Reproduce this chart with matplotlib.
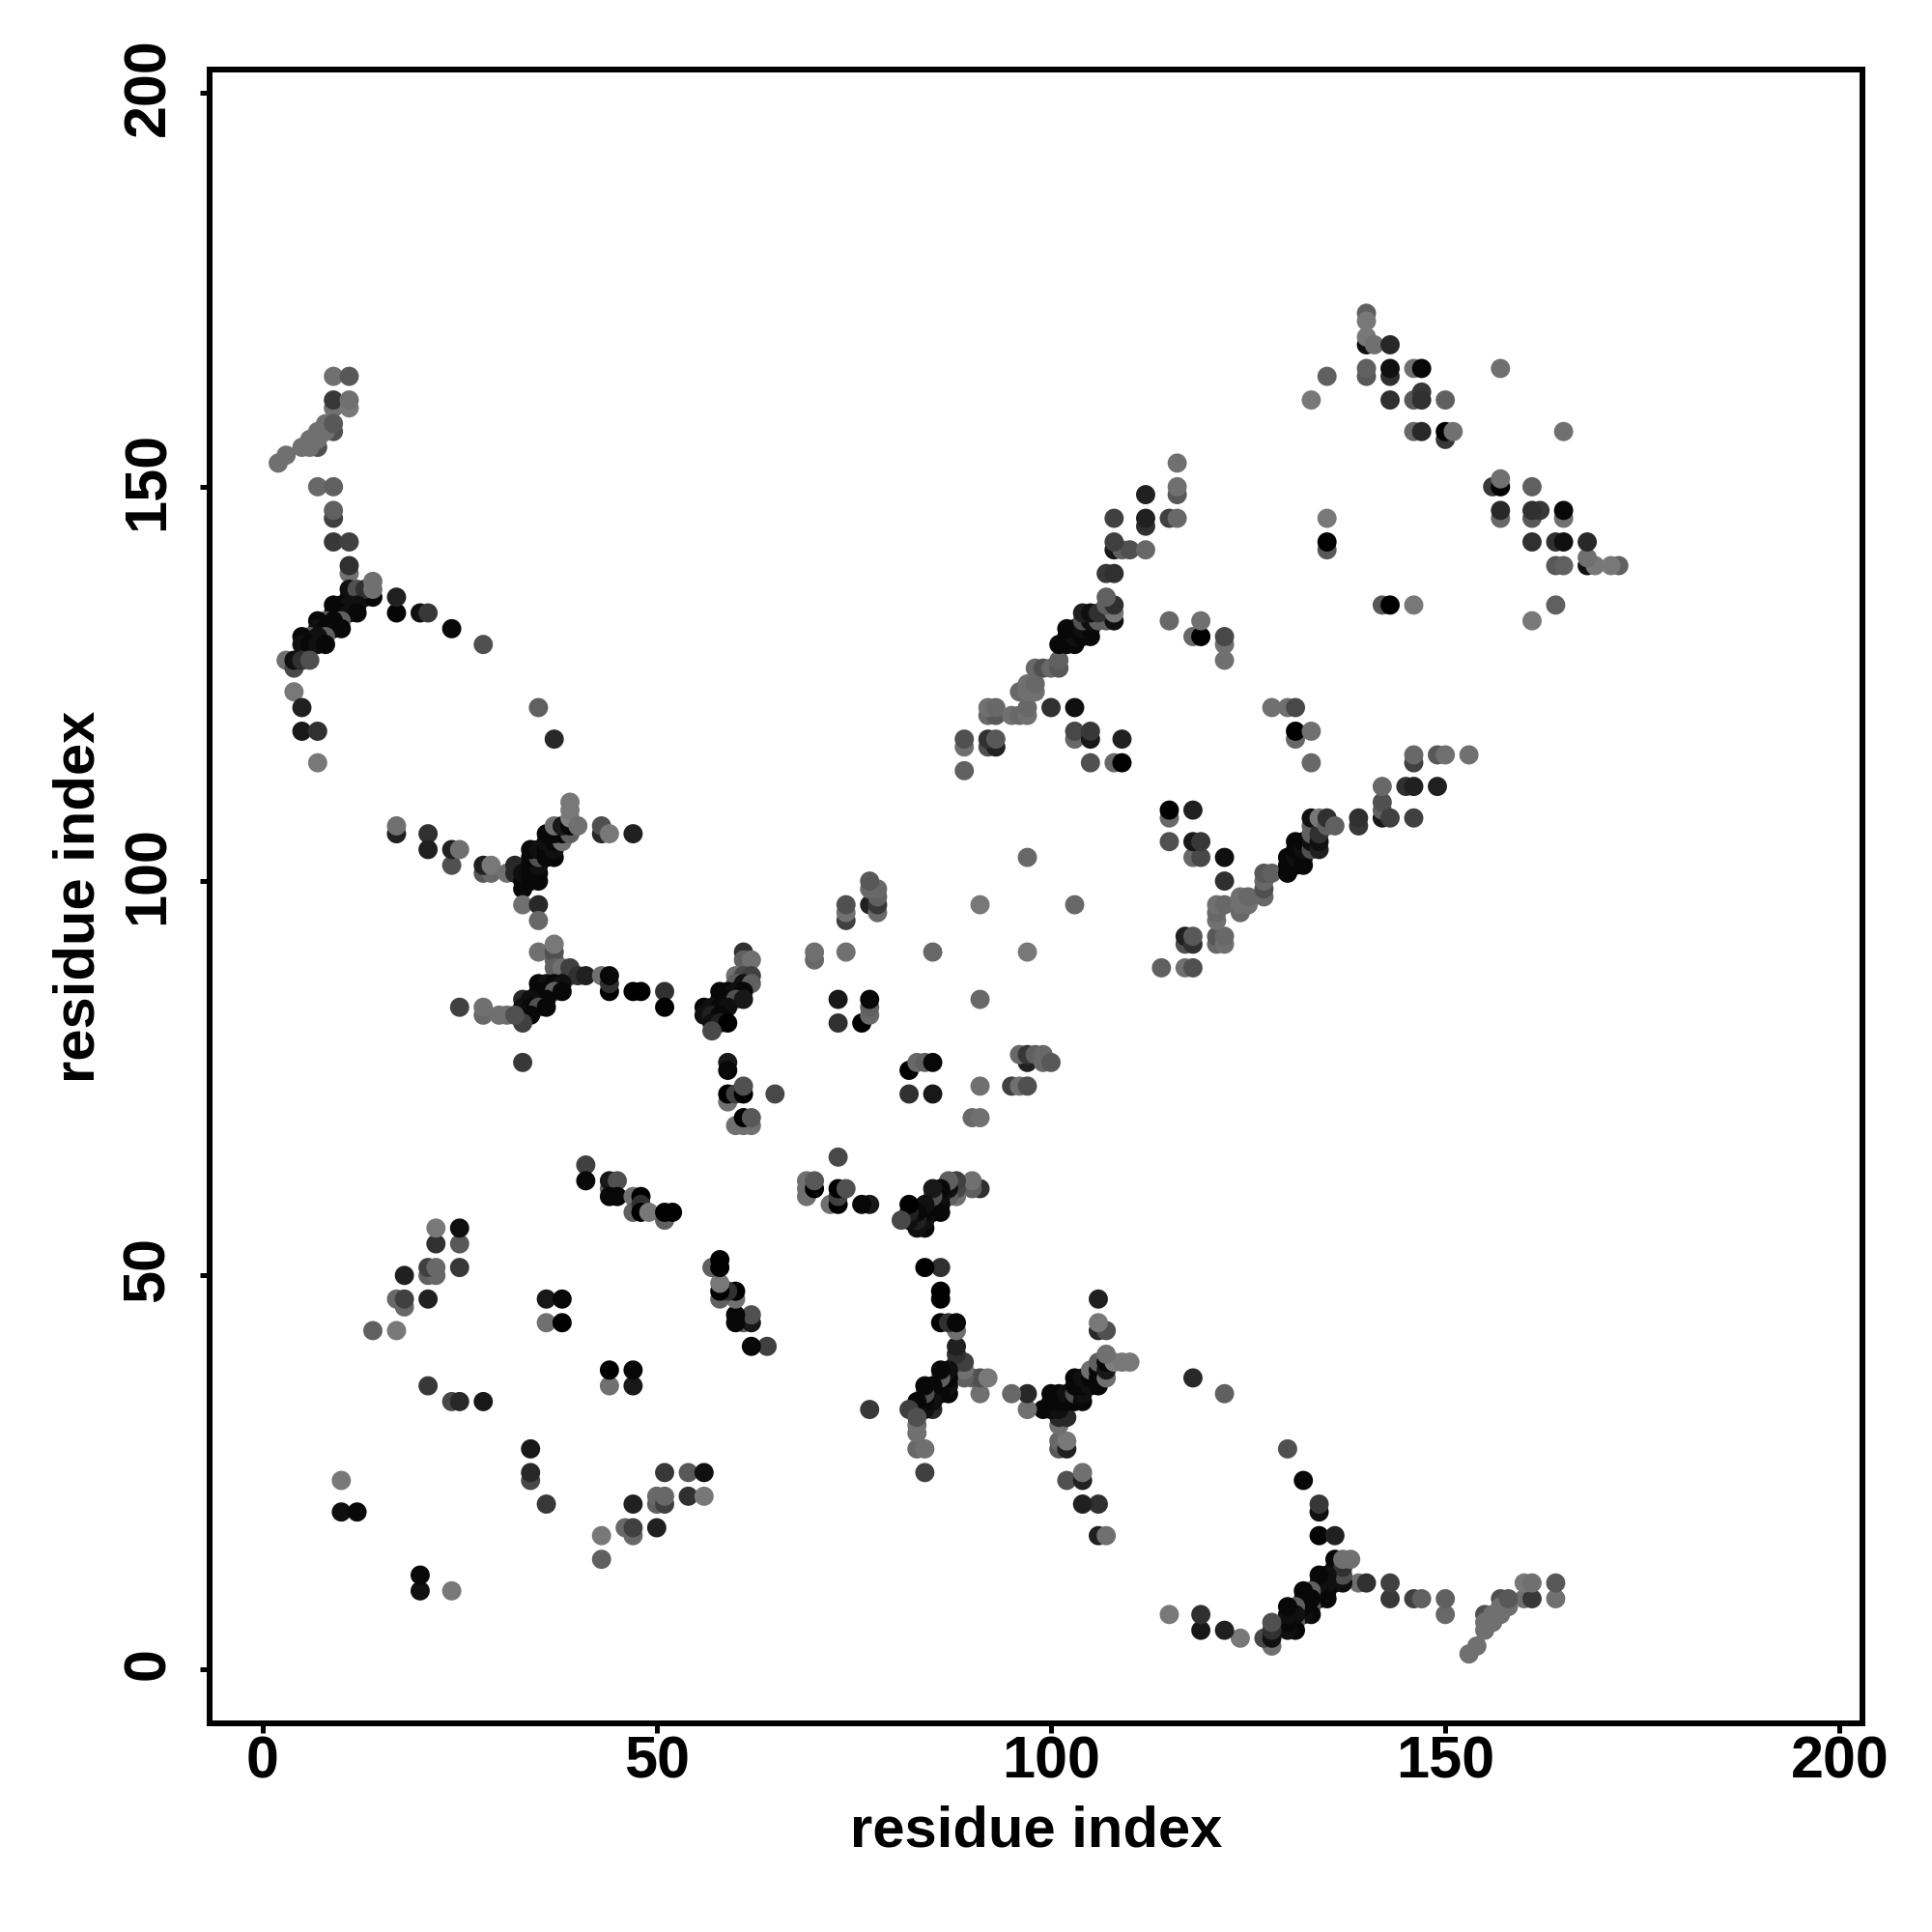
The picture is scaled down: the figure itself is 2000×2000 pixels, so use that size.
import matplotlib
matplotlib.use("Agg")
import matplotlib.pyplot as plt
from matplotlib.transforms import ScaledTranslation

# contacts as (residue i, residue j, grey level), the map is symmetric so only i < j is listed
# list order is the draw order

nterm_far = [
    (9,160,0x70),(9,161,0x38),(11,160,0x78),(11,161,0x70),(9,164,0x70),(11,164,0x58),
    (2,153,0x70),(3,154,0x70),(7,155,0x50),(5,155,0x70),(6,155,0x70),(6,156,0x70),(7,156,0x70),
    (9,157,0x50),(7,157,0x70),(8,157,0x70),(8,158,0x70),(9,158,0x58),
    (7,150,0x68),(9,150,0x60),(9,146,0x40),(9,147,0x60),(9,143,0x38),(11,143,0x40),
    (11,139,0x70),(11,140,0x30),
]
nterm_strip = [
    (11,136,0x10),(12,136,0x10),(13,136,0x10),(14,136,0x08),(11,137,0x10),(12,137,0x50),(13,137,0x30),
    (9,135,0x08),(10,135,0x08),(11,135,0x10),(12,135,0x10),
    (9,134,0x08),(10,134,0x08),(11,134,0x10),(12,134,0x08),
    (8,133,0x60),(10,133,0x60),(7,133,0x08),(9,133,0x08),
    (7,132,0x10),(8,132,0x08),(9,132,0x08),(10,132,0x08),
    (6,131,0x60),(8,131,0x60),(5,131,0x08),(7,131,0x10),
    (5,130,0x10),(6,130,0x08),(7,130,0x10),(8,130,0x08),
    (14,137,0x70),(14,138,0x70),
]
nterm_arm = [
    (17,134,0x05),(17,136,0x20),(20,134,0x10),(21,134,0x38),(24,132,0x08),(28,130,0x50),
    (3,128,0x70),(4,127,0x48),(4,128,0x10),(5,128,0x30),(6,128,0x50),(4,124,0x78),(5,122,0x20),
    (5,119,0x18),(7,119,0x30),(7,115,0x78),(35,122,0x60),(37,118,0x28),
]
mid_upper = [
    (17,106,0x20),(17,107,0x70),(21,106,0x30),(21,104,0x20),(24,102,0x50),(24,104,0x20),(25,104,0x70),
    (28,101,0x58),(29,101,0x68),(28,102,0x20),(29,102,0x78),(31,101,0x70),(32,101,0x28),(32,102,0x28),
    (33,99,0x08),(33,100,0x08),(33,101,0x10),(34,100,0x08),(35,100,0x08),(34,101,0x08),(35,101,0x08),
    (34,102,0x08),(35,102,0x10),(34,103,0x08),(35,103,0x50),(34,104,0x08),(35,104,0x10),(36,103,0x08),(37,103,0x08),
    (36,104,0x08),(37,104,0x10),(36,105,0x10),(37,105,0x08),(38,105,0x70),(36,106,0x08),(37,106,0x08),(38,106,0x08),
    (39,106,0x60),(37,107,0x70),(38,107,0x18),(39,107,0x08),(39,108,0x80),(39,109,0x78),(39,110,0x78),(40,107,0x70),
    (43,106,0x28),(43,107,0x50),(44,106,0x78),(47,106,0x20),(33,97,0x70),(35,97,0x28),(35,95,0x68),
]
mid_lower = [
    (35,91,0x70),(37,90,0x60),(37,91,0x50),(37,92,0x78),(37,89,0x60),(38,89,0x70),(39,89,0x40),(39,88,0x40),
    (40,88,0x30),(41,88,0x20),(43,88,0x70),(44,86,0x00),(44,87,0x30),(44,88,0x08),(47,86,0x00),(48,86,0x00),
    (51,86,0x30),(51,84,0x00),
    (35,87,0x08),(36,87,0x10),(37,87,0x08),(38,87,0x10),(35,86,0x08),(36,86,0x08),(37,86,0x60),(38,86,0x08),
    (35,85,0x08),(36,85,0x08),(33,85,0x28),(34,85,0x10),(33,84,0x10),(34,84,0x08),(35,84,0x50),(36,84,0x08),
    (33,83,0x10),(34,83,0x08),(33,82,0x40),(25,84,0x40),(28,83,0x68),(28,84,0x70),(30,83,0x70),(31,83,0x70),
    (32,83,0x50),(33,77,0x38),
]
cluster_60s = [
    (61,91,0x30),(61,90,0x60),(62,90,0x70),(60,88,0x70),(61,88,0x48),(62,88,0x40),(60,87,0x60),(61,87,0x10),(62,87,0x60),
    (58,86,0x08),(59,86,0x08),(60,86,0x10),(61,86,0x08),(58,85,0x08),(59,85,0x08),(60,85,0x50),(61,85,0x18),
    (56,84,0x08),(57,84,0x10),(58,84,0x08),(59,84,0x10),(56,83,0x10),(57,83,0x20),(58,83,0x08),
    (57,82,0x10),(58,82,0x20),(59,82,0x00),(57,81,0x48),
    (59,77,0x18),(59,76,0x08),(59,72,0x70),(59,73,0x00),(60,73,0x40),(61,73,0x00),(61,74,0x50),(65,73,0x48),
    (60,69,0x70),(61,69,0x70),(62,69,0x70),(61,70,0x00),(62,70,0x58),
]
cluster_45 = [
    (41,64,0x40),(41,62,0x08),(44,61,0x60),(44,62,0x18),(45,62,0x50),(44,60,0x08),(45,60,0x08),(47,60,0x70),(48,60,0x00),
    (47,58,0x60),(48,59,0x30),(48,58,0x00),(49,58,0x78),(51,57,0x60),(51,58,0x00),(52,58,0x00),
]
cluster_75 = [
    (73,82,0x30),(73,85,0x18),(76,82,0x00),(77,83,0x68),(77,84,0x60),(77,85,0x08),(70,90,0x68),(70,91,0x70),(74,91,0x70),
    (74,95,0x40),(74,96,0x70),(74,97,0x50),(77,97,0x20),(78,96,0x68),(78,97,0x38),(78,98,0x60),(77,99,0x68),(78,99,0x68),
    (77,100,0x58),(85,91,0x68),(91,97,0x78),(97,103,0x68),
]
low_left = [
    (14,43,0x60),(17,43,0x78),(18,46,0x68),(17,47,0x68),(18,47,0x40),(21,47,0x20),(18,50,0x20),(21,50,0x60),(22,50,0x68),
    (21,51,0x40),(22,51,0x68),(25,51,0x38),(22,54,0x30),(25,54,0x58),(22,56,0x78),(25,56,0x10),
    (10,20,0x10),(12,20,0x08),(10,24,0x78),(36,47,0x18),(38,47,0x08),(36,44,0x70),(38,44,0x00),
    (21,36,0x38),(24,34,0x48),(25,34,0x28),(28,34,0x18),
]
sheet_100s = [
    (89,114,0x60),(89,117,0x70),(89,118,0x50),(92,117,0x50),(93,117,0x20),(92,118,0x30),(93,118,0x58),
    (92,121,0x68),(93,121,0x58),(92,122,0x70),(93,122,0x68),(95,121,0x70),(96,121,0x68),(97,121,0x70),(97,122,0x68),
    (96,124,0x68),(97,124,0x70),(98,124,0x70),(97,125,0x70),(98,125,0x68),(98,127,0x68),(99,127,0x50),(100,127,0x68),
    (101,127,0x58),(101,128,0x60),
    (101,130,0x08),(102,130,0x08),(103,130,0x08),(102,131,0x08),(103,131,0x10),(104,131,0x08),(105,131,0x08),
    (102,132,0x08),(103,132,0x08),(104,132,0x10),(105,132,0x08),(104,133,0x50),(105,133,0x10),(106,133,0x60),
    (107,133,0x60),(108,133,0x10),(104,134,0x20),(105,134,0x10),(106,134,0x30),(108,134,0x78),(107,135,0x60),
    (108,135,0x30),(107,136,0x60),(107,139,0x38),(108,139,0x30),
    (108,142,0x18),(109,142,0x60),(110,142,0x50),(112,142,0x68),(108,143,0x40),(108,146,0x40),(112,145,0x30),
    (112,146,0x20),(115,146,0x40),(116,146,0x68),(112,149,0x20),(116,149,0x58),(116,150,0x70),(116,153,0x70),
    (100,122,0x30),(103,122,0x10),(103,118,0x68),(103,119,0x48),(105,118,0x18),(105,119,0x38),(109,118,0x20),
    (105,115,0x50),(108,115,0x68),(109,115,0x00),
    (115,133,0x68),(118,131,0x68),(119,131,0x00),(119,133,0x70),(122,128,0x70),(122,130,0x70),(122,131,0x48),
]
top_right = [
    (133,161,0x78),(135,164,0x60),(135,146,0x78),(135,142,0x58),(135,143,0x00),
    (140,172,0x60),(140,171,0x78),(140,168,0x10),(140,169,0x78),(141,168,0x70),(143,168,0x28),(140,164,0x58),(140,165,0x60),
    (143,164,0x30),(143,165,0x10),(146,165,0x70),(147,165,0x08),(143,161,0x30),(146,161,0x58),(147,162,0x38),(147,161,0x30),
    (150,161,0x60),(146,157,0x68),(147,157,0x28),(150,156,0x38),(150,157,0x00),(151,157,0x70),(157,165,0x70),
]

all_contacts = (nterm_far + nterm_strip + nterm_arm + mid_upper + mid_lower + cluster_60s
                + cluster_45 + cluster_75 + low_left + sheet_100s + top_right)

res_i = [c[0] for c in all_contacts]
res_j = [c[1] for c in all_contacts]
grey = [(c[2] / 255,) * 3 for c in all_contacts]

tick_vals = [0, 50, 100, 150, 200]
axis_label = "residue index"

plt.rcParams['font.family'] = ['Liberation Sans', 'DejaVu Sans']

fig = plt.figure(figsize=(20, 20), dpi=100)
ax = fig.add_axes([217 / 2000, 1 - 1784 / 2000, (1928 - 217) / 2000, (1784 - 72) / 2000])

ax.scatter(res_i + res_j, res_j + res_i, s=205, c=grey + grey, linewidths=0)

ax.set_xlim(-6.7, 202.9)
ax.set_ylim(-6.8, 202.9)
ax.set_xticks(tick_vals)
ax.set_yticks(tick_vals)
ax.set_xticklabels([str(t) for t in tick_vals], fontsize=44, fontweight='bold')
ax.set_yticklabels([str(t) for t in tick_vals], fontsize=44, fontweight='bold', rotation=90, va='center')
ax.tick_params(axis='x', length=7, width=3.6, pad=2)
ax.tick_params(axis='y', length=7, width=3.6, pad=17.5)

# rotated labels sit a little low, nudge them up
for lab in ax.get_yticklabels():
    lab.set_transform(lab.get_transform() + ScaledTranslation(0, 6 / 100, fig.dpi_scale_trans))

for s in ax.spines.values():
    s.set_linewidth(4.3)

ax.set_xlabel(axis_label, fontsize=43, fontweight='bold', labelpad=11)
ax.set_ylabel(axis_label, fontsize=43, fontweight='bold', labelpad=11.5)

fig.savefig("out.png", dpi=100, facecolor='white')
